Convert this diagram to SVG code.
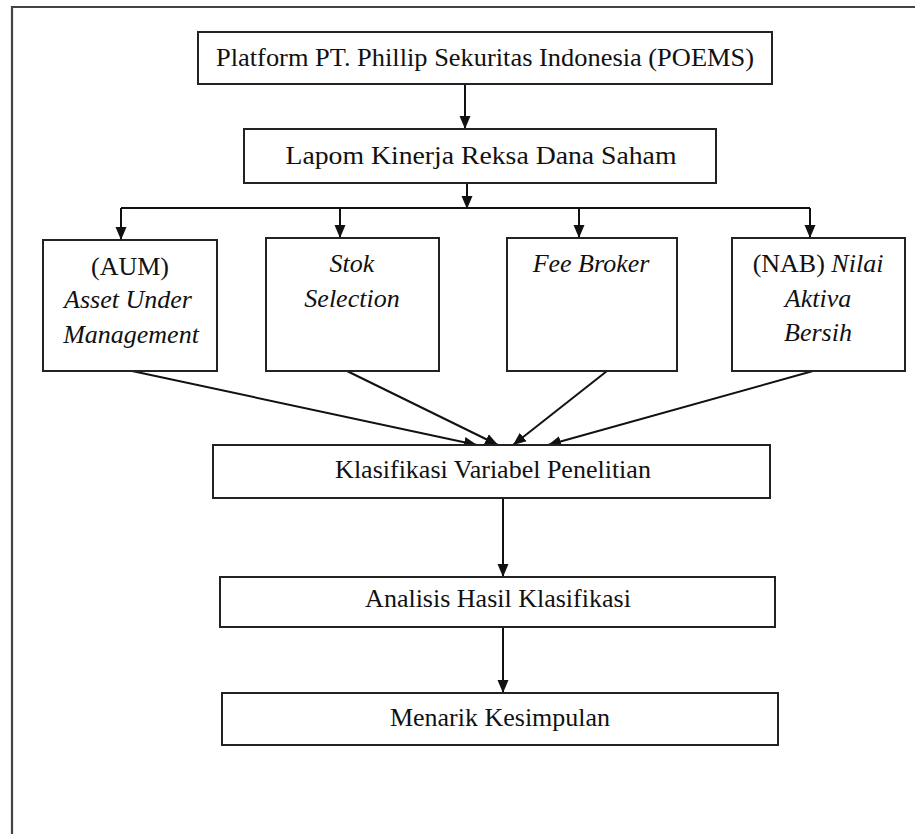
<svg xmlns="http://www.w3.org/2000/svg" width="915" height="834" viewBox="0 0 915 834">
<defs>
<style>
.box{fill:#fff;stroke:#222;stroke-width:2}
.t{font-family:"Liberation Serif","Times New Roman",serif;font-size:26px;fill:#111;text-anchor:middle}
.i{font-style:italic}
.c{stroke:#111;stroke-width:2;fill:none}
</style>
<marker id="ah" markerUnits="userSpaceOnUse" markerWidth="14" markerHeight="14" viewBox="0 0 14 14" refX="13" refY="7" orient="auto">
<path d="M0,1.5 L13,7 L0,12.5 Z" fill="#111"/>
</marker>
</defs>
<rect x="0" y="0" width="915" height="834" fill="#fff"/>
<path d="M12,840 V7 H920" fill="none" stroke="#444" stroke-width="2.2"/>
<g id="connectors">
<line class="c" x1="465" y1="84" x2="465" y2="129" marker-end="url(#ah)"/>
<line class="c" x1="467" y1="183" x2="467" y2="209" marker-end="url(#ah)"/>
<line class="c" x1="121" y1="208" x2="810" y2="208"/>
<line class="c" x1="121" y1="208" x2="121" y2="240" marker-end="url(#ah)"/>
<line class="c" x1="340" y1="208" x2="340" y2="238" marker-end="url(#ah)"/>
<line class="c" x1="579" y1="208" x2="579" y2="238" marker-end="url(#ah)"/>
<line class="c" x1="810" y1="208" x2="810" y2="238" marker-end="url(#ah)"/>
<line class="c" x1="132" y1="371" x2="477" y2="445" marker-end="url(#ah)"/>
<line class="c" x1="347" y1="371" x2="498" y2="445" marker-end="url(#ah)"/>
<line class="c" x1="607" y1="371" x2="513" y2="445" marker-end="url(#ah)"/>
<line class="c" x1="813" y1="371" x2="548" y2="445" marker-end="url(#ah)"/>
<line class="c" x1="503" y1="498" x2="503" y2="577" marker-end="url(#ah)"/>
<line class="c" x1="503" y1="627" x2="503" y2="693" marker-end="url(#ah)"/>
</g>
<g id="n1"><rect class="box" x="198" y="32" width="574" height="52"/><text class="t" x="485" y="66" textLength="538" lengthAdjust="spacingAndGlyphs">Platform PT. Phillip Sekuritas Indonesia (POEMS)</text></g>
<g id="n2"><rect class="box" x="244" y="129" width="472" height="54"/><text class="t" x="481" y="164" textLength="391" lengthAdjust="spacingAndGlyphs">Lapom Kinerja Reksa Dana Saham</text></g>
<g id="n3"><rect class="box" x="43" y="240" width="174" height="131"/>
<text class="t" x="130" y="275">(AUM)</text>
<text class="t i" x="128" y="308">Asset Under</text>
<text class="t i" x="131" y="343">Management</text></g>
<g id="n4"><rect class="box" x="266" y="238" width="173" height="133"/>
<text class="t i" x="352" y="272">Stok</text>
<text class="t i" x="352" y="307">Selection</text></g>
<g id="n5"><rect class="box" x="507" y="238" width="170" height="133"/>
<text class="t i" x="591" y="272">Fee Broker</text></g>
<g id="n6"><rect class="box" x="732" y="238" width="173" height="133"/>
<text class="t" x="818" y="272">(NAB) <tspan class="i">Nilai</tspan></text>
<text class="t i" x="818" y="307">Aktiva</text>
<text class="t i" x="818" y="341">Bersih</text></g>
<g id="n7"><rect class="box" x="213" y="445" width="557" height="53"/><text class="t" x="493" y="478">Klasifikasi Variabel Penelitian</text></g>
<g id="n8"><rect class="box" x="220" y="577" width="555" height="50"/><text class="t" x="498" y="607">Analisis Hasil Klasifikasi</text></g>
<g id="n9"><rect class="box" x="222" y="693" width="556" height="52"/><text class="t" x="500" y="726">Menarik Kesimpulan</text></g>
</svg>
